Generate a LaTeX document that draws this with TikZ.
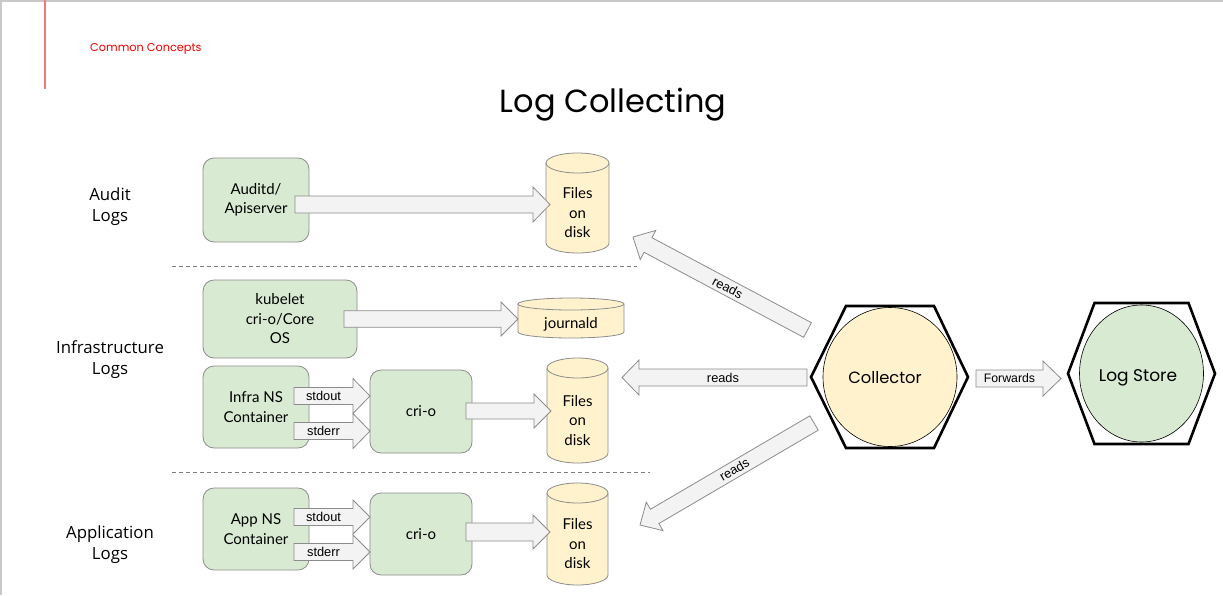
\documentclass[tikz,border=0pt]{standalone}
\usepackage{fontspec}
\setmainfont{Lato}
\newfontfamily\titlefont{Poppins}
\newfontfamily\secfont{Open Sans}
\newfontfamily\arialfont{Liberation Sans}
\usetikzlibrary{calc,shapes.geometric}

\definecolor{boxgreen}{HTML}{D9EAD3}
\definecolor{cylyellow}{HTML}{FFF2CC}
\definecolor{arrowgray}{HTML}{F3F3F3}
\definecolor{edgegray}{HTML}{8C8C8C}
\definecolor{rhred}{HTML}{EE0000}
\definecolor{rhline}{HTML}{F07878}
\definecolor{framegray}{HTML}{C8C8C8}

\newcommand\boxfnt{\fontsize{15}{19.5}\selectfont}

\newcommand\blockarrow[6]{%
  \coordinate (ba-h) at ($(#2)!#5!(#1)$);
  \draw[bigarrow] ($(#1)!#3!90:(#2)$) -- ($(ba-h)!#3!90:(#2)$) -- ($(ba-h)!#4!90:(#2)$)
     -- (#2) -- ($(ba-h)!#4!-90:(#2)$) -- ($(ba-h)!#3!-90:(#2)$) -- ($(#1)!#3!-90:(#2)$) -- cycle;
  \path (#1) -- (ba-h) node[midway, sloped, arrowlabel] {#6};
}

% name, cx, cy, w, h, ry, text
\newcommand\cylinder[7]{%
  \node[inner sep=0pt, outer sep=0pt, minimum width=#4pt, minimum height=#5pt] (#1) at (#2,#3) {};
  \draw[cylshape] ([yshift=-#6pt]#1.north west) -- ([yshift=#6pt]#1.south west)
     arc[start angle=180, end angle=360, x radius={0.5*#4pt}, y radius=#6pt]
     -- ([yshift=-#6pt]#1.north east)
     arc[start angle=0, end angle=180, x radius={0.5*#4pt}, y radius=#6pt] -- cycle;
  \draw[cylshape, fill=none] ([yshift=-#6pt]#1.north west)
     arc[start angle=180, end angle=360, x radius={0.5*#4pt}, y radius=#6pt];
  \node[align=center, font=\boxfnt, inner sep=0pt] (#1-t) at ([yshift=-#6pt]#1.center) {#7};
}

\tikzset{
  gbox/.style={draw=edgegray, fill=boxgreen, rounded corners=11pt, line width=0.8pt,
    align=center, font=\boxfnt, inner sep=0pt, outer sep=0pt},
  cylshape/.style={draw=edgegray, fill=cylyellow, line width=0.8pt},
  bigarrow/.style={draw=edgegray, fill=arrowgray, line width=0.8pt, line join=miter},
  arrowlabel/.style={font=\arialfont\fontsize{12.8}{14}\selectfont, inner sep=0pt},
  seclabel/.style={font=\secfont\fontsize{16.8}{21}\selectfont, align=center},
  sepline/.style={dash pattern=on 4pt off 3pt, draw=gray, line width=0.7pt},
  hexline/.style={line width=2.6pt, line join=miter, draw=black},
  orb/.style={ellipse, draw=black, line width=0.6pt, inner sep=0pt, outer sep=0pt},
  orbtext/.style={font=\titlefont\fontsize{16.3}{20}\selectfont},
}

\begin{document}
\begin{tikzpicture}[x=1pt, y=-1pt]
\useasboundingbox (0,0) rectangle (1223,595);
\fill[white] (0,0) rectangle (1223,595);

% frame and header
\draw[framegray, line width=1.5pt] (0,0.75) coordinate (ft1) -- (1223,0.75) coordinate (ft2);
\draw[framegray, line width=1.5pt] (0.75,0) coordinate (fl1) -- (0.75,595) coordinate (fl2);
\draw[rhline, line width=1.6pt] (45,0) coordinate (rl1) -- (45,89) coordinate (rl2);
\node[anchor=west, text=rhred, font=\titlefont\fontsize{11.3}{13}\selectfont, inner sep=0pt] (hdr) at (90,48.5) {Common Concepts};
\node[font=\titlefont\fontsize{32}{38}\selectfont] (title) at (613,105) {Log Collecting};

% section labels
\node[seclabel] (sec1) at (110,207) {Audit\\Logs};
\node[seclabel] (sec2) at (110,360) {Infrastructure\\Logs};
\node[seclabel] (sec3) at (110,545) {Application\\Logs};

% separators
\draw[sepline] (172,266) coordinate (s1a) -- (637,266) coordinate (s1b);
\draw[sepline] (172,472) coordinate (s2a) -- (650,472) coordinate (s2b);

% green boxes
\node[gbox, minimum width=106pt, minimum height=84pt] (aud) at (256,200) {Auditd/\\Apiserver};
\node[gbox, minimum width=154pt, minimum height=78pt] (kub) at (280,319) {kubelet\\cri-o/Core\\OS};
\node[gbox, minimum width=106pt, minimum height=82pt] (infc) at (256,407) {Infra NS\\Container};
\node[gbox, minimum width=102pt, minimum height=83pt] (icri) at (421,411.5) {cri-o};
\node[gbox, minimum width=106pt, minimum height=82pt] (appc) at (256,529) {App NS\\Container};
\node[gbox, minimum width=102pt, minimum height=82pt] (acri) at (421,534) {cri-o};

% cylinders
\cylinder{fad}{577.5}{203}{63}{100}{10}{Files\\on\\disk}
\cylinder{jrn}{571}{318}{106}{40}{6}{journald}
\cylinder{fin}{577.5}{410.5}{61}{105}{10}{Files\\on\\disk}
\cylinder{fap}{577.5}{534}{61}{102}{10}{Files\\on\\disk}

% collector and log store
\node[orb, fill=cylyellow, minimum width=134pt, minimum height=139pt] (coll) at (890,377) {};
\draw[hexline] ([xshift=-79pt]coll.center) -- ([xshift=-44pt,yshift=71pt]coll.center)
  -- ([xshift=44pt,yshift=71pt]coll.center) -- ([xshift=78pt]coll.center)
  -- ([xshift=44pt,yshift=-71pt]coll.center) -- ([xshift=-44pt,yshift=-71pt]coll.center) -- cycle;
\node[orbtext] (coll-t) at (885,378) {Collector};

\node[orb, fill=boxgreen, minimum width=124pt, minimum height=137pt] (store) at (1141.5,373.5) {};
\draw[hexline] ([xshift=-73.5pt]store.center) -- ([xshift=-47pt,yshift=70.5pt]store.center)
  -- ([xshift=47pt,yshift=70.5pt]store.center) -- ([xshift=73.5pt]store.center)
  -- ([xshift=47pt,yshift=-70.5pt]store.center) -- ([xshift=-47pt,yshift=-70.5pt]store.center) -- cycle;
\node[orbtext, font=\titlefont\fontsize{17}{20}\selectfont] (store-t) at (1138,378) {Log Store};

% arrow end points
\coordinate (a1s) at (295,204.5);   \coordinate (a1e) at (550,204.5);
\coordinate (a2s) at (344,319);     \coordinate (a2e) at (518,319);
\coordinate (a3s) at (294,396);     \coordinate (a3e) at (370,396);
\coordinate (a4s) at (294,431);     \coordinate (a4e) at (370,431);
\coordinate (a5s) at (466,411);     \coordinate (a5e) at (551,411);
\coordinate (a6s) at (294,517);     \coordinate (a6e) at (370,517);
\coordinate (a7s) at (294,552);     \coordinate (a7e) at (370,552);
\coordinate (a8s) at (466,532);     \coordinate (a8e) at (550,532);
\coordinate (r1s) at (807.5,330);   \coordinate (r1e) at (633,237);
\coordinate (r2s) at (807,377.5);   \coordinate (r2e) at (622,377.5);
\coordinate (r3s) at (814,423);     \coordinate (r3e) at (640,525);
\coordinate (fws) at (976,378.5);   \coordinate (fwe) at (1061,378.5);

\blockarrow{a1s}{a1e}{8.5pt}{17.5pt}{17pt}{}
\blockarrow{a2s}{a2e}{8.3pt}{17pt}{17pt}{}
\blockarrow{a3s}{a3e}{8.5pt}{17.5pt}{17pt}{stdout}
\blockarrow{a4s}{a4e}{8.5pt}{17.5pt}{17pt}{stderr}
\blockarrow{a5s}{a5e}{8pt}{17pt}{17pt}{}
\blockarrow{a6s}{a6e}{8.5pt}{17pt}{17pt}{stdout}
\blockarrow{a7s}{a7e}{8.5pt}{17pt}{17pt}{stderr}
\blockarrow{a8s}{a8e}{9pt}{17pt}{17pt}{}
\blockarrow{r1s}{r1e}{8.3pt}{16.5pt}{17pt}{reads}
\blockarrow{r2s}{r2e}{8.5pt}{17.5pt}{17pt}{reads}
\blockarrow{r3s}{r3e}{8.3pt}{16.5pt}{17pt}{reads}
\tikzset{arrowlabel/.append style={font=\arialfont\fontsize{12.3}{13}\selectfont}}
\blockarrow{fws}{fwe}{8.5pt}{17.5pt}{18pt}{Forwards}
\end{tikzpicture}
\end{document}
